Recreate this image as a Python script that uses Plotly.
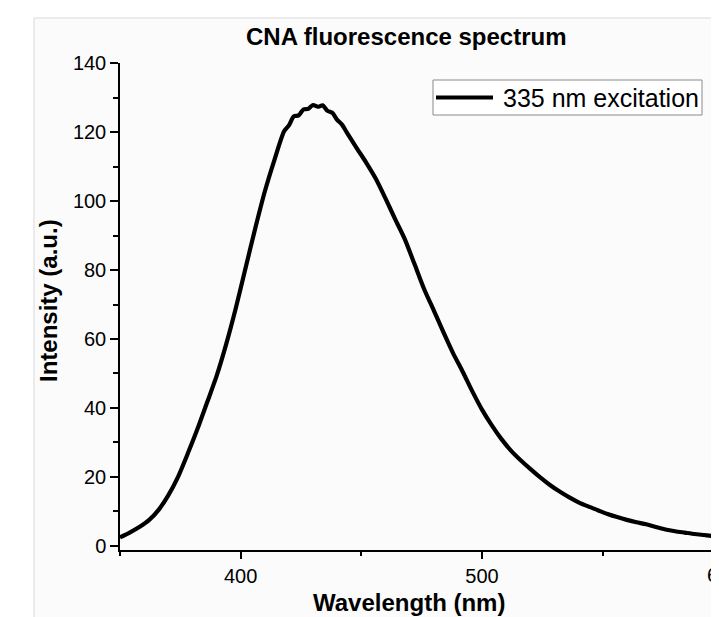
import plotly.graph_objects as go

# ---- data ----
wavelength = [350, 354, 358, 362, 366, 370, 374, 378, 382, 386, 390, 394, 398,
              402, 406, 410, 414, 418, 420, 422, 424, 426, 428, 430, 432, 434,
              436, 438, 440, 442, 444, 448, 452, 456, 460, 464, 468, 472, 476,
              480, 484, 488, 492, 496, 500, 504, 508, 512, 516, 520, 524, 528,
              532, 536, 540, 544, 548, 552, 556, 560, 564, 568, 572, 576, 580,
              584, 588, 592, 596, 600]
intensity = [2.4, 3.8, 5.4, 7.4, 10.4, 14.6, 19.9, 26.6, 33.7, 41.4, 49.2, 58.5, 69.0,
             80.5, 92.0, 102.8, 112.0, 120.3, 122.0, 124.6, 124.9, 126.6, 126.8, 127.9, 127.4, 127.8,
             126.2, 125.6, 123.6, 122.2, 119.9, 115.5, 111.2, 106.5, 100.8, 94.8, 89.0, 81.8, 74.5,
             68.3, 62.0, 55.9, 50.5, 44.8, 39.5, 35.0, 31.0, 27.6, 24.8, 22.3, 19.9, 17.7,
             15.8, 14.1, 12.6, 11.4, 10.3, 9.2, 8.3, 7.5, 6.8, 6.2, 5.4, 4.7, 4.2,
             3.8, 3.4, 3.1, 2.8, 2.6]

series_name = "335 nm excitation"
title_text = "CNA fluorescence spectrum"
x_title = "Wavelength (nm)"
y_title = "Intensity (a.u.)"
x_range = [350, 598.2]
y_range = [-1.25, 140.1]
x_ticks = [400, 500, 600]

# the page places the figure 8 px in from the window's corner
OFF = 8
WIN_W, WIN_H = 719, 617
W, H = WIN_W - OFF, WIN_H - OFF
# plot area in window pixels: x 120..719, y 63..550
ML, MR, MT, MB = 120 - OFF, 0, 63 - OFF, WIN_H - 550
PW, PH = W - ML - MR, H - MT - MB


def px(xw):
    return (xw - OFF - ML) / PW


def py(yw):
    return (H - MB - (yw - OFF)) / PH


FONT = "Liberation Sans, Arial, sans-serif"

fig = go.Figure()
fig.add_trace(go.Scatter(x=wavelength, y=intensity, mode="lines", name=series_name,
                         line=dict(color="black", width=4.2, shape="spline", smoothing=0.7),
                         showlegend=False))

axis_common = dict(showline=True, linecolor="black", linewidth=1.5, ticks="outside",
                   tickcolor="black", tickwidth=1.5, showgrid=False, zeroline=False,
                   tickfont=dict(family=FONT, size=20, color="black"))

fig.update_xaxes(range=x_range, tickmode="array", tickvals=x_ticks, ticklen=7,
                 minor=dict(ticks="outside", ticklen=4, tickwidth=1.5, tickcolor="black",
                            tickmode="array", tickvals=[350, 450, 550]),
                 **axis_common)
fig.update_yaxes(range=y_range, dtick=20, tick0=0, ticklen=8,
                 minor=dict(ticks="outside", ticklen=5, tickwidth=1.5, tickcolor="black", dtick=10),
                 **axis_common)

shapes = [
    # light screenshot frame
    dict(type="rect", xref="paper", yref="paper", x0=px(34), x1=px(WIN_W + 4), y0=py(WIN_H + 4), y1=py(18),
         fillcolor="#fbfbfb", line=dict(color="#d9d9d9", width=1), layer="below"),
    # legend box
    dict(type="rect", xref="paper", yref="paper", x0=px(433), x1=px(702), y0=py(115), y1=py(80),
         fillcolor="white", line=dict(color="#8a8a8a", width=1)),
    # legend sample line
    dict(type="line", xref="paper", yref="paper", x0=px(436), x1=px(493), y0=py(97.5), y1=py(97.5),
         line=dict(color="black", width=4)),
]

# position of the last (partly hidden) tick label
x600 = (x_ticks[-1] - x_range[0]) / (x_range[1] - x_range[0])

annotations = [
    dict(text="<b>" + title_text + "</b>", xref="paper", yref="paper", x=px(406), y=py(36),
         showarrow=False, xanchor="center", yanchor="middle",
         font=dict(family=FONT, size=24, color="black")),
    dict(text="<b>" + x_title + "</b>", xref="paper", yref="paper", x=px(409), y=py(602),
         showarrow=False, xanchor="center", yanchor="middle",
         font=dict(family=FONT, size=24, color="black")),
    dict(text="<b>" + y_title + "</b>", xref="paper", yref="paper", x=px(48), y=py(301),
         showarrow=False, xanchor="center", yanchor="middle", textangle=-90,
         font=dict(family=FONT, size=24, color="black")),
    dict(text=series_name, xref="paper", yref="paper", x=px(501), y=py(97.5), showarrow=False,
         xanchor="left", yanchor="middle", font=dict(family=FONT, size=25, color="black")),
    dict(text=str(x_ticks[-1]), xref="paper", yref="paper", x=x600, y=py(575), showarrow=False,
         xanchor="center", yanchor="middle", font=dict(family=FONT, size=20, color="black")),
]

fig.update_layout(width=W, height=H, margin=dict(l=ML, r=MR, t=MT, b=MB, pad=0),
                  paper_bgcolor="white", plot_bgcolor="rgba(0,0,0,0)",
                  shapes=shapes, annotations=annotations, showlegend=False)

fig.write_html("out.html")
